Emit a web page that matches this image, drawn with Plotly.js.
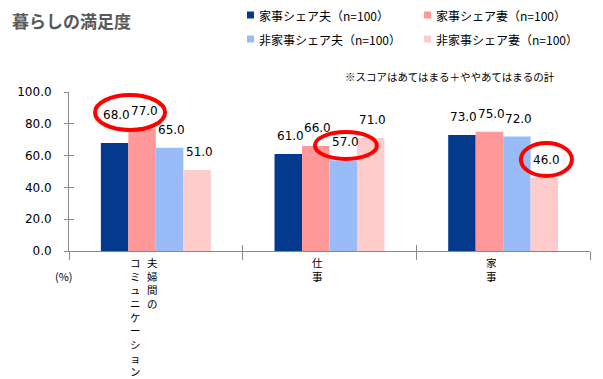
<!DOCTYPE html>
<html>
<head>
<meta charset="utf-8">
<script src="https://cdn.plot.ly/plotly-3.0.1.min.js"></script>
<style>html,body{margin:0;padding:0;background:#fff;}#chart{width:603px;height:379px;}</style>
</head>
<body>
<div id="chart"></div>
<script>
// ---- data ----
const categories = ['夫婦間のコミュニケーション', '仕事', '家事'];
const categoryColumns = [['夫婦間の', 'コミュニケーション'], ['仕事'], ['家事']];
const seriesNames = ['家事シェア夫（n=100）', '家事シェア妻（n=100）', '非家事シェア夫（n=100）', '非家事シェア妻（n=100）'];
const shareHusband = [68.0, 61.0, 73.0];
const shareWife = [77.0, 66.0, 75.0];
const nonShareHusband = [65.0, 57.0, 72.0];
const nonShareWife = [51.0, 71.0, 46.0];
const yTickValues = [0, 20, 40, 60, 80, 100];
const titleText = '暮らしの満足度';
const noteText = '※スコアはあてはまる＋ややあてはまるの計';
const unitText = '(%)';

// ---- style ----
const colors = ['#033A8E', '#FF9999', '#99BBF7', '#FFCCCC'];
const JP = '"Noto Sans CJK JP", "Noto Sans", sans-serif';
const NUM = '"DejaVu Sans", Verdana, sans-serif';
const W = 603, H = 379;
const M = {l: 69, r: 13, t: 92, b: 128};
const PW = W - M.l - M.r, PH = H - M.t - M.b;
const BARGAP = 0.367;
const catW = PW / categories.length;
const bw = catW * (1 - BARGAP) / 4;
const px = v => (v - M.l) / PW;
const py = v => (M.t + PH - v) / PH;

const allSeries = [shareHusband, shareWife, nonShareHusband, nonShareWife];

const traces = allSeries.map((vals, s) => ({
  type: 'bar',
  x: categories,
  y: vals,
  name: seriesNames[s],
  marker: {color: colors[s], line: {width: 0}},
  hoverinfo: 'none',
  showlegend: false
}));
// helper trace for overlay axes (crossing ticks)
traces.push({type: 'scatter', x: [], y: [], xaxis: 'x2', yaxis: 'y2', showlegend: false, hoverinfo: 'none'});

const annotations = [];
// data labels
allSeries.forEach((vals, s) => {
  vals.forEach((v, i) => {
    const lift = (s === 0 && i === 0) ? 10 : 0;
    annotations.push({
      x: i, y: v, xref: 'x', yref: 'y',
      text: v.toFixed(1), showarrow: false,
      xanchor: 'center', yanchor: 'bottom',
      xshift: (s - 1.5) * bw + 2, yshift: 9 + lift,
      font: {family: NUM, size: 12, color: '#000'}
    });
  });
});
// vertical category labels (right-to-left columns)
categoryColumns.forEach((cols, i) => {
  const n = cols.length;
  cols.forEach((col, k) => {
    annotations.push({
      x: i, y: 0, xref: 'x', yref: 'paper',
      text: Array.from(col).join('<br>'), showarrow: false,
      xanchor: 'center', yanchor: 'top', borderpad: 0,
      xshift: -12 + ((n - 1) / 2 - k) * 17, yshift: -3,
      font: {family: JP, size: 10.5, color: '#000'}
    });
  });
});
// unit label
annotations.push({
  x: 0, y: 0, xref: 'paper', yref: 'paper', text: unitText, showarrow: false,
  xanchor: 'center', yanchor: 'middle', xshift: -5, yshift: -25,
  font: {family: JP, size: 11, color: '#000'}
});
// note
annotations.push({
  x: px(343), y: py(76), xref: 'paper', yref: 'paper', text: noteText, showarrow: false,
  xanchor: 'left', yanchor: 'middle',
  font: {family: JP, size: 10.5, color: '#000'}
});

// custom legend
const shapes = [];
const legendPos = [[257, 15], [434, 15], [257, 39], [434, 39]];
seriesNames.forEach((nm, s) => {
  const [tx, ty] = legendPos[s];
  annotations.push({
    x: px(tx), y: py(ty), xref: 'paper', yref: 'paper', text: nm, showarrow: false,
    xanchor: 'left', yanchor: 'middle',
    font: {family: JP, size: 12, color: '#000'}
  });
  shapes.push({
    type: 'rect', xref: 'paper', yref: 'paper',
    x0: px(tx - 10), x1: px(tx - 3), y0: py(ty + 3.5), y1: py(ty - 3.5),
    fillcolor: colors[s], line: {width: 0}
  });
});

// red highlight ellipses
const ellipses = [
  {x0: -0.350, x1: 0.053, y0: 76.1, y1: 98.1},
  {x0: 0.916, x1: 1.273, y0: 57.9, y1: 74.8},
  {x0: 2.102, x1: 2.396, y0: 47.2, y1: 67.9}
];
ellipses.forEach(e => shapes.push(Object.assign({
  type: 'circle', xref: 'x', yref: 'y', layer: 'above',
  line: {color: '#FF0000', width: 4}
}, e)));

const axisColor = '#888888';
const layout = {
  width: W, height: H,
  margin: M,
  paper_bgcolor: '#fff', plot_bgcolor: '#fff',
  barmode: 'group', bargap: BARGAP, bargroupgap: 0,
  showlegend: false,
  title: {
    text: titleText, xref: 'container', yref: 'container',
    x: 12 / W, xanchor: 'left', y: 1 - 22 / H, yanchor: 'middle',
    font: {family: JP, size: 17, color: '#595959', weight: 'bold'}
  },
  xaxis: {
    type: 'category', range: [-0.5, 2.5], tickson: 'boundaries',
    ticks: 'outside', ticklen: 8, tickcolor: axisColor, tickwidth: 1,
    showticklabels: false, showline: true, linecolor: axisColor, linewidth: 1,
    showgrid: false, zeroline: false, fixedrange: true
  },
  yaxis: {
    range: [0, 100], tickvals: yTickValues, tickformat: '.1f',
    ticks: 'outside', ticklen: 4, tickcolor: axisColor, tickwidth: 1,
    ticklabelstandoff: 10,
    showline: true, linecolor: axisColor, linewidth: 1,
    showgrid: false, zeroline: false, fixedrange: true,
    tickfont: {family: NUM, size: 12, color: '#000'}
  },
  xaxis2: {
    overlaying: 'x', anchor: 'y2', range: [-0.5, 2.5],
    tickvals: [-0.5, 0.5, 1.5, 2.5], ticks: 'inside', ticklen: 6, tickcolor: axisColor,
    showticklabels: false, showline: false, showgrid: false, zeroline: false, fixedrange: true
  },
  yaxis2: {
    overlaying: 'y', anchor: 'x2', range: [0, 100], tickvals: yTickValues,
    ticks: 'inside', ticklen: 5, tickcolor: axisColor,
    showticklabels: false, showline: false, showgrid: false, zeroline: false, fixedrange: true
  },
  annotations: annotations,
  shapes: shapes
};

Plotly.newPlot('chart', traces, layout, {displayModeBar: false, staticPlot: true});
</script>
</body>
</html>
